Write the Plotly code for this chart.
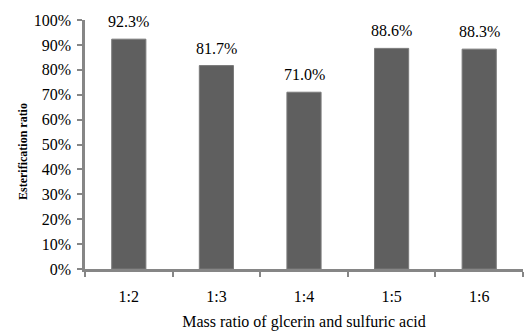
import plotly.graph_objects as go

# Esterification ratio for each glycerin : sulfuric acid mass ratio
ratios = ["1:2", "1:3", "1:4", "1:5", "1:6"]
ester_ratio = [0.923, 0.817, 0.710, 0.886, 0.883]
value_labels = ["92.3%", "81.7%", "71.0%", "88.6%", "88.3%"]

serif = "Liberation Serif"
axis_grey = "#868686"

fig = go.Figure()
fig.add_trace(go.Bar(
    x=ratios,
    y=ester_ratio,
    marker=dict(color="#5f5f5f", line=dict(color="#7a7a7a", width=1)),
    hoverinfo="skip",
))

for cat, val, lab in zip(ratios, ester_ratio, value_labels):
    fig.add_annotation(
        x=cat, y=val, text=lab, showarrow=False,
        xref="x", yref="y", yanchor="bottom", yshift=7,
        font=dict(family=serif, size=16, color="#000"),
    )

# Vertical axis title
fig.add_annotation(
    x=-0.162, y=0.47, xref="paper", yref="paper",
    text="<b>Esterification ratio</b>", textangle=-90, showarrow=False,
    font=dict(family=serif, size=12, color="#000"),
)

fig.update_layout(
    width=524, height=331,
    margin=dict(l=85, r=1, t=20, b=62),
    paper_bgcolor="white", plot_bgcolor="white",
    showlegend=False,
    bargap=0.61,
    font=dict(family=serif, size=16, color="#000"),
    xaxis=dict(
        title=dict(text="Mass ratio of glcerin and sulfuric acid", standoff=13,
                   font=dict(family=serif, size=16)),
        showline=True, linecolor=axis_grey, linewidth=2.5,
        ticks="outside", ticklen=5, tickcolor=axis_grey, tickwidth=2,
        tickson="boundaries", ticklabelstandoff=11,
        tickfont=dict(family=serif, size=16),
        showgrid=False, zeroline=False,
    ),
    yaxis=dict(
        range=[0, 1], dtick=0.1, tickformat=".0%",
        showline=True, linecolor=axis_grey, linewidth=2.5,
        ticks="outside", ticklen=5, tickcolor=axis_grey, tickwidth=2,
        ticklabelstandoff=3,
        tickfont=dict(family=serif, size=16),
        showgrid=False, zeroline=False,
    ),
)

fig.write_html("out.html")
